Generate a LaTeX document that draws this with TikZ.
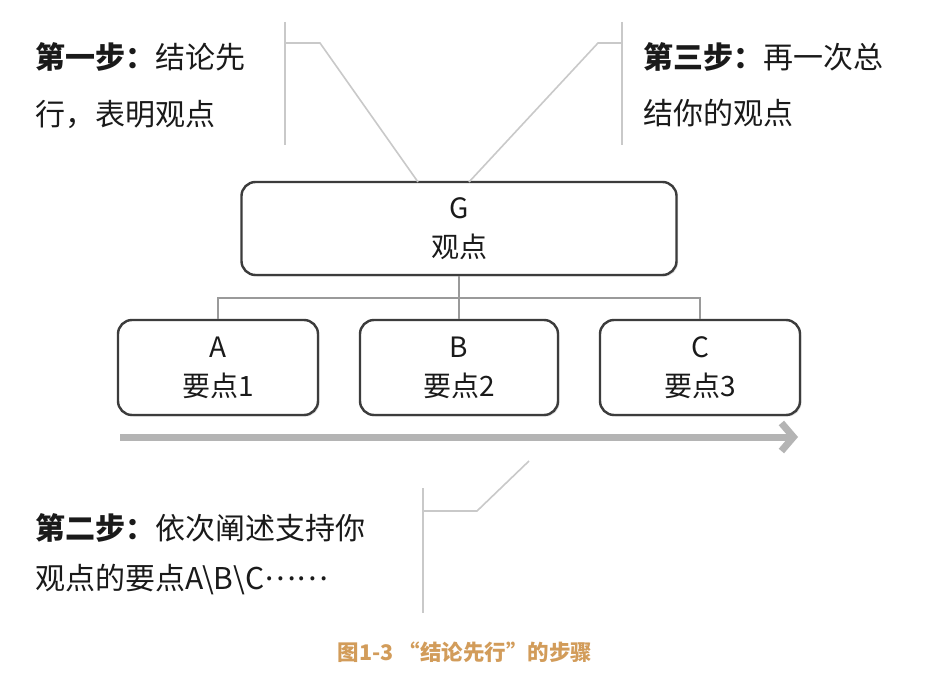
\documentclass[tikz,border=0pt]{standalone}
\usepackage{fontspec}
\setmainfont{Noto Sans CJK SC}
\usetikzlibrary{arrows.meta,shadows}
\definecolor{txt}{HTML}{1A1A1A}
\definecolor{boxline}{HTML}{3C3C3C}
\definecolor{conn}{HTML}{9A9A9A}
\definecolor{brk}{HTML}{C9C9C9}
\definecolor{flow}{HTML}{B4B4B4}
\definecolor{cap}{HTML}{D29C5A}
\tikzset{
  rbox/.style={draw=boxline, line width=2.4pt, rounded corners=14pt, fill=white,
    align=center, inner sep=0pt, text=txt,
    font=\fontsize{28}{39}\selectfont,
    drop shadow={opacity=0.25, shadow xshift=1.5pt, shadow yshift=-1.5pt}},
  steptxt/.style={anchor=west, inner sep=0pt, text=txt, font=\fontsize{30}{36}\selectfont},
  tree/.style={draw=conn, line width=1.2pt},
  bracket/.style={draw=brk, line width=1.6pt},
}
\begin{document}
\begin{tikzpicture}[x=1pt,y=-1pt]
\useasboundingbox[fill=white] (0,0) rectangle (929,690);

% boxes
\node[rbox, minimum width=435pt, minimum height=93pt] (G) at (459,228.5) {G\\观点};
\node[rbox, minimum width=200pt, minimum height=95pt] (A) at (218,367.5) {A\\要点1};
\node[rbox, minimum width=198pt, minimum height=95pt] (B) at (459,367.5) {B\\要点2};
\node[rbox, minimum width=200pt, minimum height=95pt] (C) at (700,367.5) {C\\要点3};

% tree connectors
\coordinate (J) at (459,298);
\draw[tree] (G.south) -- (J);
\draw[tree] (A.north) |- (J) -| (C.north);
\draw[tree] (J) -- (B.north);

% flow arrow
\coordinate (fs) at (120,437);
\coordinate (fe) at (798,437);
\draw[draw=flow, line width=7pt, -{Straight Barb[length=12pt,width=28pt]}] (fs) -- (fe);

% step texts
\node[steptxt] (s1a) at (35,57) {\textbf{第一步：}结论先};
\node[steptxt] (s1b) at (35,114) {行，表明观点};
\node[steptxt] (s3a) at (643,57) {\textbf{第三步：}再一次总};
\node[steptxt] (s3b) at (643,113) {结你的观点};
\node[steptxt] (s2a) at (35,528) {\textbf{第二步：}依次阐述支持你};
\node[steptxt] (s2b) at (35,580) {观点的要点A\textbackslash B\textbackslash C\raisebox{0.3em}{……}};

% brackets
\coordinate (L1) at (285,22); \coordinate (L2) at (285,145);
\coordinate (L3) at (285,43); \coordinate (L4) at (320,43);
\coordinate (Gl) at (418,182);
\draw[bracket] (L1) -- (L2);
\draw[bracket] (L3) -- (L4) -- (Gl);

\coordinate (R1) at (622,22); \coordinate (R2) at (622,145);
\coordinate (R3) at (622,43); \coordinate (R4) at (598,43);
\coordinate (Gr) at (469,182);
\draw[bracket] (R1) -- (R2);
\draw[bracket] (R3) -- (R4) -- (Gr);

\coordinate (D1) at (423,488); \coordinate (D2) at (423,613);
\coordinate (D3) at (423,511); \coordinate (D4) at (477,511);
\coordinate (D5) at (529,461);
\draw[bracket] (D1) -- (D2);
\draw[bracket] (D3) -- (D4) -- (D5);

% caption
\node[text=cap, font=\fontsize{21.5}{26}\selectfont\bfseries, inner sep=0pt] (cap) at (465,652) {图1-3 “结论先行”的步骤};
\end{tikzpicture}
\end{document}
